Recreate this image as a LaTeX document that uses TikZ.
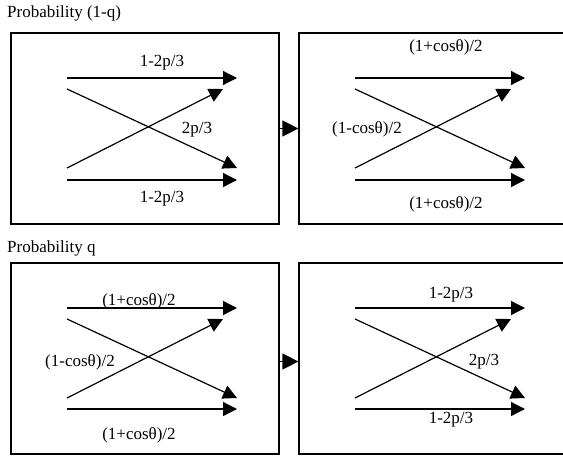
\documentclass[tikz,border=0pt]{standalone}
\usepackage{fontspec}
\setmainfont{Liberation Serif}
\usetikzlibrary{arrows.meta, positioning}

\tikzset{
    box/.style={draw, line width=1.2pt, minimum width=268pt, minimum height=191pt, inner sep=0pt},
    flow/.style={line width=1.2pt, -{Triangle[length=14pt, width=14pt]}},
    link/.style={line width=1.2pt, -{Triangle[length=16pt, width=16pt]}},
    lbl/.style={inner sep=1pt},
}

\begin{document}
\begin{tikzpicture}[x=1pt, y=-1pt, font=\fontsize{17}{20}\selectfont]
    \useasboundingbox (0,0) rectangle (563,456);

    % Titles
    \node[anchor=west, inner sep=0pt] (title1) at (7,13) {Probability (1-q)};
    \node[anchor=west, inner sep=0pt] (title2) at (7,248) {Probability q};

    % Boxes
    \node[box] (box1) at (145,128.5) {};
    \node[box] (box2) at (433,128.5) {};
    \node[box] (box3) at (145,358.5) {};
    \node[box] (box4) at (433,358.5) {};

    % Box 1 - depolarizing
    \coordinate (b1a) at (67,78);  \coordinate (b1b) at (237,78);
    \coordinate (b1c) at (67,89);  \coordinate (b1d) at (237,168);
    \coordinate (b1e) at (67,168); \coordinate (b1f) at (223,89);
    \coordinate (b1g) at (67,180); \coordinate (b1h) at (237,180);
    \draw[flow] (b1a) -- (b1b);
    \draw[flow] (b1c) -- (b1d);
    \draw[flow] (b1e) -- (b1f);
    \draw[flow] (b1g) -- (b1h);
    \node[lbl] (b1top) at (162,63) {1-2p/3};
    \node[lbl] (b1mid) at (197,130) {2p/3};
    \node[lbl] (b1bot) at (162,199) {1-2p/3};

    % Box 2 - rotation
    \coordinate (b2a) at (355,78);  \coordinate (b2b) at (525,78);
    \coordinate (b2c) at (355,89);  \coordinate (b2d) at (525,168);
    \coordinate (b2e) at (355,168); \coordinate (b2f) at (511,89);
    \coordinate (b2g) at (355,180); \coordinate (b2h) at (525,180);
    \draw[flow] (b2a) -- (b2b);
    \draw[flow] (b2c) -- (b2d);
    \draw[flow] (b2e) -- (b2f);
    \draw[flow] (b2g) -- (b2h);
    \node[lbl] (b2top) at (446,47) {(1+cosθ)/2};
    \node[lbl] (b2mid) at (367,129) {(1-cosθ)/2};
    \node[lbl] (b2bot) at (446,204) {(1+cosθ)/2};

    % Box 3 - rotation
    \coordinate (b3a) at (67,308);  \coordinate (b3b) at (237,308);
    \coordinate (b3c) at (67,319);  \coordinate (b3d) at (237,398);
    \coordinate (b3e) at (67,398);  \coordinate (b3f) at (223,319);
    \coordinate (b3g) at (67,409);  \coordinate (b3h) at (237,409);
    \draw[flow] (b3a) -- (b3b);
    \draw[flow] (b3c) -- (b3d);
    \draw[flow] (b3e) -- (b3f);
    \draw[flow] (b3g) -- (b3h);
    \node[lbl] (b3top) at (139,301) {(1+cosθ)/2};
    \node[lbl] (b3mid) at (80,362) {(1-cosθ)/2};
    \node[lbl] (b3bot) at (139,435) {(1+cosθ)/2};

    % Box 4 - depolarizing
    \coordinate (b4a) at (355,308); \coordinate (b4b) at (525,308);
    \coordinate (b4c) at (355,319); \coordinate (b4d) at (525,398);
    \coordinate (b4e) at (355,398); \coordinate (b4f) at (511,319);
    \coordinate (b4g) at (355,409); \coordinate (b4h) at (525,409);
    \draw[flow] (b4a) -- (b4b);
    \draw[flow] (b4c) -- (b4d);
    \draw[flow] (b4e) -- (b4f);
    \draw[flow] (b4g) -- (b4h);
    \node[lbl] (b4top) at (451,295) {1-2p/3};
    \node[lbl] (b4mid) at (484,362) {2p/3};
    \node[lbl] (b4bot) at (451,420) {1-2p/3};

    % Links between boxes
    \draw[link] (box1.east) -- (box2.west);
    \draw[link] ([yshift=-3pt]box3.east) -- ([yshift=-3pt]box4.west);
\end{tikzpicture}
\end{document}
